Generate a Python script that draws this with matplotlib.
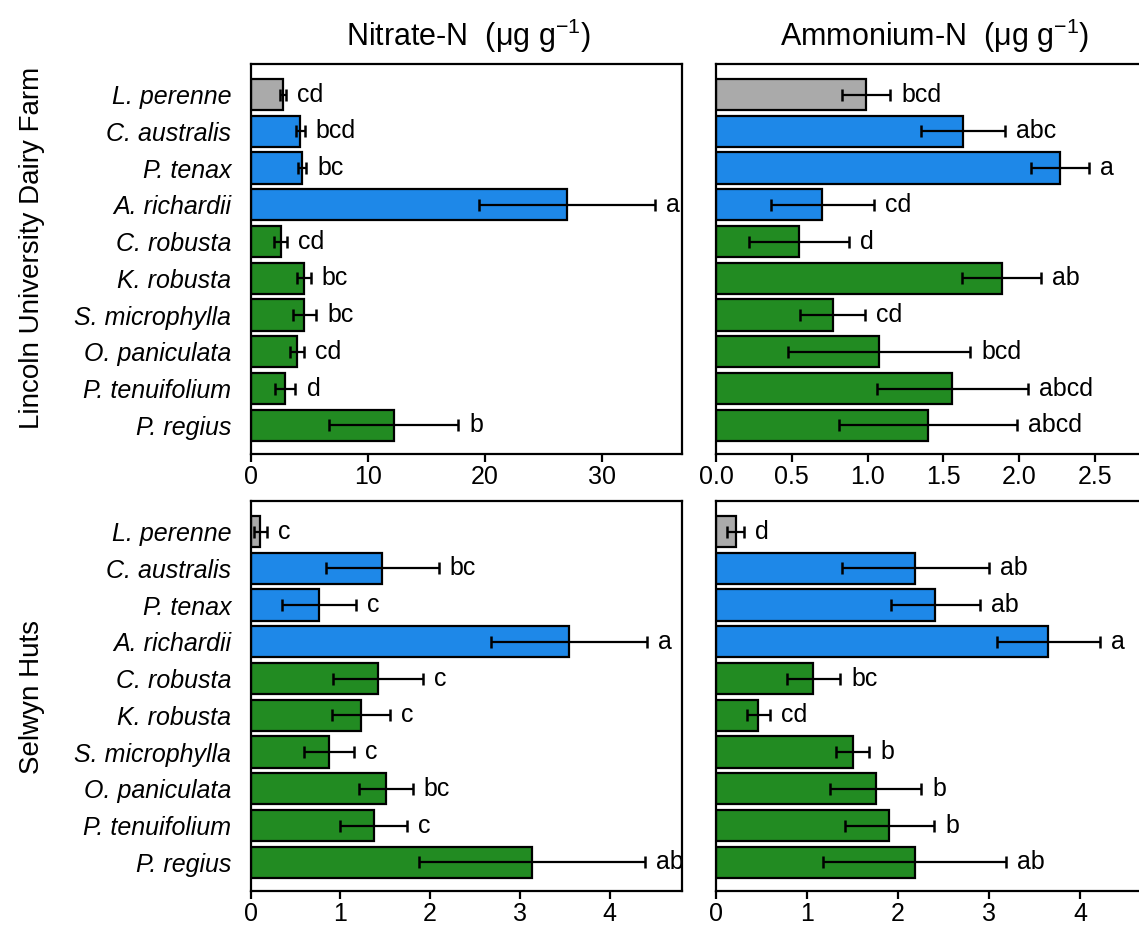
import matplotlib.pyplot as plt
import numpy as np

plt.rcParams['font.family'] = ['Liberation Sans', 'DejaVu Sans']
plt.rcParams['mathtext.fontset'] = 'custom'
plt.rcParams['mathtext.rm'] = 'Liberation Sans'

species = ['L. perenne', 'C. australis', 'P. tenax', 'A. richardii', 'C. robusta',
           'K. robusta', 'S. microphylla', 'O. paniculata', 'P. tenuifolium', 'P. regius']
groups = ['grey', 'blue', 'blue', 'blue', 'green', 'green', 'green', 'green', 'green', 'green']

# Lincoln University Dairy Farm
lin_no3 = [2.78, 4.26, 4.37, 27.0, 2.56, 4.57, 4.6, 3.95, 2.95, 12.2]
lin_no3_err = [0.25, 0.35, 0.36, 7.5, 0.55, 0.57, 1.0, 0.57, 0.88, 5.5]
lin_no3_let = ['cd', 'bcd', 'bc', 'a', 'cd', 'bc', 'bc', 'cd', 'd', 'b']

lin_nh4 = [0.99, 1.63, 2.27, 0.70, 0.546, 1.886, 0.77, 1.076, 1.56, 1.40]
lin_nh4_err = [0.16, 0.275, 0.19, 0.34, 0.33, 0.26, 0.215, 0.6, 0.5, 0.585]
lin_nh4_let = ['bcd', 'abc', 'a', 'cd', 'd', 'ab', 'cd', 'bcd', 'abcd', 'abcd']

# Selwyn Huts
sel_no3 = [0.11, 1.47, 0.764, 3.55, 1.42, 1.23, 0.875, 1.507, 1.37, 3.136]
sel_no3_err = [0.07, 0.625, 0.415, 0.87, 0.5, 0.32, 0.275, 0.3, 0.37, 1.26]
sel_no3_let = ['c', 'bc', 'c', 'a', 'c', 'c', 'c', 'bc', 'c', 'ab']

sel_nh4 = [0.216, 2.19, 2.41, 3.65, 1.07, 0.465, 1.50, 1.755, 1.905, 2.18]
sel_nh4_err = [0.095, 0.81, 0.49, 0.565, 0.295, 0.13, 0.18, 0.5, 0.49, 1.0]
sel_nh4_let = ['d', 'ab', 'ab', 'a', 'bc', 'cd', 'b', 'b', 'b', 'ab']

colmap = {'grey': '#AAAAAA', 'blue': '#1E88E8', 'green': '#228B22'}
colors = [colmap[g] for g in groups]

W, H = 1139, 926
fig = plt.figure(figsize=(W / 100, H / 100), dpi=100)


def make_ax(x0, y_top, y_bot, w):
    return fig.add_axes([x0 / W, (H - y_bot) / H, w / W, (y_bot - y_top) / H])


def draw(ax, vals, errs, lets, xlim, xticks, xtlabels, show_names):
    y = np.arange(len(vals))
    ax.barh(y, vals, height=0.85, color=colors, edgecolor='black', linewidth=1.6, zorder=2)
    ax.errorbar(vals, y, xerr=errs, fmt='none', ecolor='black', elinewidth=1.6,
                capsize=4, capthick=1.8, zorder=3)
    for yi, v, e, t in zip(y, vals, errs, lets):
        ax.annotate(t, (v + e, yi), xytext=(8, 0), textcoords='offset points',
                    ha='left', va='center', fontsize=18, annotation_clip=False)
    ax.set_xlim(0, xlim)
    ax.set_ylim(9.78, -0.83)
    ax.set_xticks(xticks)
    ax.set_xticklabels(xtlabels, fontsize=18)
    ax.tick_params(axis='x', direction='out', length=6, width=1.6, pad=2)
    ax.set_yticks(y)
    if show_names:
        ax.set_yticklabels(species, fontsize=18, style='italic')
    else:
        ax.set_yticklabels([])
    ax.tick_params(axis='y', length=0, pad=14)
    for s in ax.spines.values():
        s.set_linewidth(1.6)


ax1 = make_ax(250.5, 64, 454, 431)
ax2 = make_ax(716, 64, 454, 428)
ax3 = make_ax(250.5, 501, 891, 431)
ax4 = make_ax(716, 501, 891, 428)

draw(ax1, lin_no3, lin_no3_err, lin_no3_let, 36.74, [0, 10, 20, 30],
     ['0', '10', '20', '30'], True)
draw(ax2, lin_nh4, lin_nh4_err, lin_nh4_let, 2.825, [0, 0.5, 1.0, 1.5, 2.0, 2.5],
     ['0.0', '0.5', '1.0', '1.5', '2.0', '2.5'], False)
draw(ax3, sel_no3, sel_no3_err, sel_no3_let, 4.8, [0, 1, 2, 3, 4],
     ['0', '1', '2', '3', '4'], True)
draw(ax4, sel_nh4, sel_nh4_err, sel_nh4_let, 4.7, [0, 1, 2, 3, 4],
     ['0', '1', '2', '3', '4'], False)

fig.text(468 / W, (H - 36) / H, 'Nitrate-N  (μg g$^{-1}$)', fontsize=22,
         ha='center', va='center')
fig.text(935 / W, (H - 36) / H, 'Ammonium-N  (μg g$^{-1}$)', fontsize=22,
         ha='center', va='center')

fig.text(32 / W, (H - 248) / H, 'Lincoln University Dairy Farm', rotation=90,
         fontsize=20, ha='center', va='center')
fig.text(32 / W, (H - 697) / H, 'Selwyn Huts', rotation=90,
         fontsize=20, ha='center', va='center')

fig.savefig('out.png', dpi=100)
